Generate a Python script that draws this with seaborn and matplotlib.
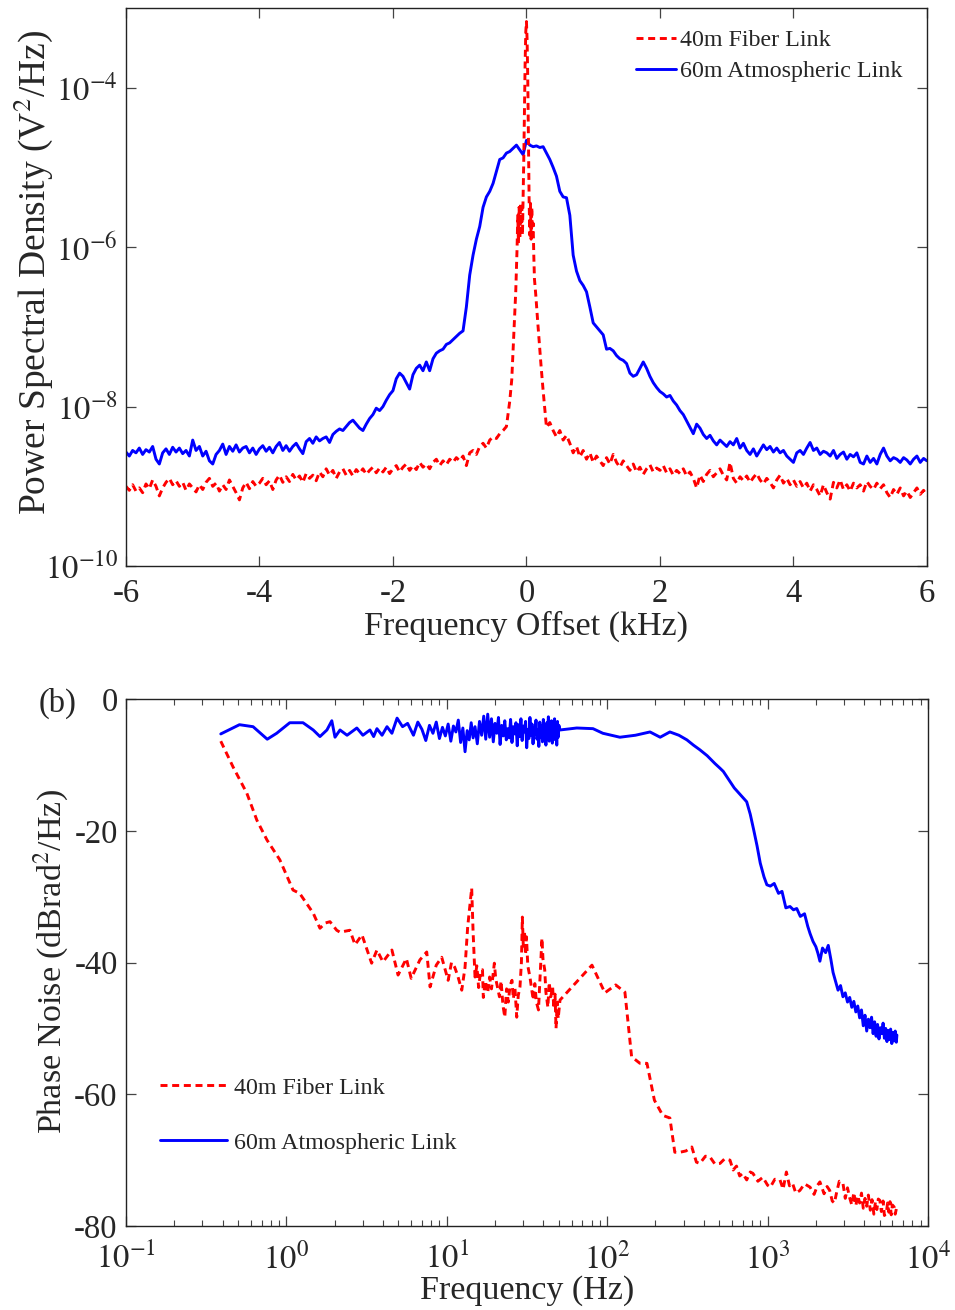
import numpy as np
import pandas as pd
import matplotlib
matplotlib.use("Agg")
import matplotlib.pyplot as plt
from matplotlib.ticker import NullLocator, LogLocator, FixedLocator, FixedFormatter
from matplotlib.lines import Line2D
import seaborn as sns

# ---------------- panel (a): power spectral density ----------------
psd_freq_khz = np.round(np.linspace(-6.0, 6.0, 241), 2)   # FFT bins, 0.05 kHz

atmos_psd_log10 = [
    -8.57, -8.62, -8.55, -8.58, -8.52, -8.60, -8.54, -8.57, -8.50, -8.66, -8.72, -8.58, -8.53, -8.60, -8.51, -8.57, -8.52, -8.59, -8.55, -8.62,
    -8.42, -8.55, -8.50, -8.62, -8.56, -8.68, -8.72, -8.60, -8.55, -8.47, -8.60, -8.50, -8.56, -8.48, -8.57, -8.52, -8.50, -8.58, -8.52, -8.60,
    -8.53, -8.49, -8.56, -8.51, -8.58, -8.50, -8.45, -8.55, -8.49, -8.56, -8.50, -8.46, -8.53, -8.59, -8.44, -8.40, -8.46, -8.38, -8.43, -8.40,
    -8.38, -8.45, -8.35, -8.31, -8.28, -8.30, -8.25, -8.20, -8.17, -8.22, -8.27, -8.30, -8.22, -8.15, -8.10, -8.02, -8.05, -8.00, -7.92, -7.85,
    -7.80, -7.65, -7.58, -7.62, -7.70, -7.78, -7.60, -7.52, -7.48, -7.55, -7.44, -7.55, -7.40, -7.33, -7.30, -7.28, -7.22, -7.20, -7.16, -7.12,
    -7.08, -7.05, -6.75, -6.35, -6.10, -5.90, -5.74, -5.50, -5.37, -5.30, -5.20, -5.05, -4.90, -4.88, -4.82, -4.80, -4.76, -4.72, -4.78, -4.84,
    -4.66, -4.72, -4.74, -4.73, -4.75, -4.74, -4.82, -4.90, -5.00, -5.11, -5.30, -5.37, -5.38, -5.60, -6.10, -6.30, -6.42, -6.48, -6.56, -6.75,
    -6.95, -7.00, -7.05, -7.10, -7.28, -7.27, -7.30, -7.36, -7.40, -7.42, -7.46, -7.58, -7.62, -7.60, -7.52, -7.44, -7.52, -7.62, -7.70, -7.76,
    -7.81, -7.84, -7.88, -7.86, -7.93, -7.98, -8.05, -8.10, -8.18, -8.26, -8.34, -8.22, -8.27, -8.35, -8.40, -8.36, -8.43, -8.48, -8.42, -8.46,
    -8.50, -8.44, -8.48, -8.40, -8.52, -8.46, -8.55, -8.60, -8.53, -8.62, -8.55, -8.48, -8.54, -8.50, -8.57, -8.52, -8.58, -8.55, -8.62, -8.66,
    -8.70, -8.58, -8.55, -8.60, -8.52, -8.45, -8.55, -8.52, -8.60, -8.56, -8.58, -8.62, -8.55, -8.65, -8.60, -8.57, -8.66, -8.60, -8.63, -8.58,
    -8.70, -8.72, -8.62, -8.70, -8.65, -8.72, -8.60, -8.52, -8.62, -8.68, -8.64, -8.66, -8.70, -8.64, -8.67, -8.72, -8.66, -8.62, -8.70, -8.65,
    -8.68,
]

# fiber link: bins -6.00 .. -0.30
fiber_left_log10 = [
    -9.00, -9.05, -8.98, -9.06, -9.02, -9.08, -8.97, -9.03, -8.92, -9.00, -9.12, -9.02, -8.95, -8.90, -8.98, -8.93, -9.00, -8.95, -9.05, -8.97,
    -9.02, -9.07, -8.98, -9.04, -8.95, -8.90, -9.00, -8.96, -9.06, -8.98, -9.04, -8.92, -9.00, -9.08, -9.17, -9.02, -8.95, -9.03, -8.94, -9.00,
    -8.96, -8.90, -8.98, -8.93, -9.04, -8.92, -8.86, -8.95, -8.88, -8.94, -8.85, -8.92, -8.87, -8.95, -8.84, -8.90, -8.86, -8.93, -8.82, -8.88,
    -8.78, -8.86, -8.80, -8.90, -8.82, -8.78, -8.86, -8.80, -8.87, -8.79, -8.84, -8.78, -8.85, -8.80, -8.76, -8.83, -8.77, -8.82, -8.76, -8.84,
    -8.78, -8.74, -8.82, -8.76, -8.72, -8.80, -8.74, -8.79, -8.70, -8.76, -8.72, -8.78, -8.70, -8.66, -8.74, -8.68, -8.73, -8.66, -8.70, -8.64,
    -8.68, -8.62, -8.74, -8.58, -8.55, -8.60, -8.50, -8.46, -8.52, -8.42, -8.38, -8.40, -8.34, -8.30, -8.25,
]
# fiber link: finely resolved carrier region
fiber_core_khz = [-0.25, -0.22, -0.19, -0.16, -0.14, -0.13, -0.12, -0.11, -0.10, -0.09, -0.08, -0.07, -0.06, -0.05,
                  -0.04, -0.03, -0.02, -0.01, 0.00, 0.01, 0.02, 0.03, 0.04, 0.05, 0.06, 0.07, 0.08, 0.09, 0.10,
                  0.11, 0.12, 0.14, 0.17, 0.22, 0.25]
fiber_core_log10 = [-7.93, -7.66, -7.10, -6.55, -6.00, -5.60, -5.95, -5.50, -5.90, -5.45, -5.80, -5.50, -5.85, -5.40,
                    -4.90, -4.30, -3.70, -3.30, -3.17, -3.40, -3.90, -4.60, -5.40, -5.85, -5.45, -5.90, -5.50, -5.85, -5.70,
                    -6.10, -6.40, -6.60, -6.95, -7.50, -7.80]
# fiber link: bins 0.30 .. 6.00
fiber_right_log10 = [
    -8.26, -8.20, -8.30, -8.38, -8.30, -8.42, -8.36, -8.46, -8.58, -8.50, -8.63, -8.55, -8.66, -8.58,
    -8.70, -8.62, -8.68, -8.74, -8.64, -8.72, -8.60, -8.70, -8.76, -8.68, -8.74, -8.80, -8.72, -8.82, -8.76, -8.85, -8.78, -8.73, -8.82, -8.77,
    -8.80, -8.74, -8.83, -8.78, -8.86, -8.80, -8.84, -8.78, -8.87, -8.82, -8.90, -9.02, -8.86, -8.94, -8.85, -8.80, -8.88, -8.83, -8.78, -8.86,
    -8.92, -8.70, -8.90, -8.96, -8.88, -8.93, -8.87, -8.95, -8.89, -8.84, -8.92, -8.97, -8.90, -8.95, -9.02, -8.92, -8.86, -8.96, -8.90, -8.98,
    -8.92, -9.00, -8.94, -9.02, -8.96, -9.06, -8.98, -9.04, -9.12, -8.98, -9.08, -9.16, -8.95, -9.02, -8.92, -9.04, -8.98, -9.06, -8.96, -9.02,
    -8.98, -9.06, -8.94, -9.00, -9.04, -8.96, -9.03, -8.98, -9.08, -9.14, -9.04, -9.10, -9.02, -9.12, -9.06, -9.14, -9.08, -9.02, -9.10, -9.05,
    -9.12,
]

psd_xticks = [-6, -4, -2, 0, 2, 4, 6]
psd_yticks = [1e-10, 1e-8, 1e-6, 1e-4]
psd_yticklabels = [r'$10^{-10}$', r'$10^{-8}$', r'$10^{-6}$', r'$10^{-4}$']

# ---------------- panel (b): phase noise ----------------
fiber_pn_hz = [
    0.39, 0.465, 0.567, 0.655, 0.757, 0.91, 1.1, 1.21, 1.47, 1.62,
    1.75, 1.87, 2.06, 2.16, 2.49, 2.68, 2.96, 3.4, 3.67, 4.0,
    4.55, 4.97, 5.6, 6.0, 6.8, 7.5, 7.87, 8.6, 9.3, 10.2,
    10.7, 11.2, 11.7, 12.4, 13.0, 13.5, 14.3, 14.6, 15.0, 15.4,
    15.8, 16.2, 16.7, 16.9, 17.4, 18.0, 18.5, 19.0, 19.8, 20.2,
    20.7, 21.3, 21.8, 22.4, 23.0, 23.6, 24.2, 24.8, 25.5, 26.0,
    26.6, 27.3, 27.9, 28.6, 29.2, 29.6, 30.0, 30.5, 31.0, 31.4,
    32.0, 33.0, 33.8, 34.6, 35.4, 36.2, 37.3, 38.2, 39.2, 39.8,
    40.8, 41.5, 42.7, 43.5, 44.5, 45.7, 46.5, 47.3, 48.0, 48.8,
    49.5, 50.8, 80.4, 96.8, 113, 129, 142, 160, 177, 197,
    222, 246, 264, 284, 310, 337, 360, 378, 410, 437,
    470, 505, 540, 583, 610, 640, 670, 700, 741, 780,
    810, 870, 935, 1000, 1040, 1110, 1195, 1250, 1310, 1370,
    1430, 1500, 1590, 1700, 1840, 1950, 2050, 2120, 2250, 2350,
    2440, 2530, 2610, 2700, 2800, 2950, 3050, 3150, 3240, 3350,
    3450, 3550, 3650, 3750, 3850, 3950, 4050, 4150, 4250, 4370,
    4480, 4600, 4700, 4800, 4900, 5010, 5120, 5250, 5350, 5500,
    5600, 5700, 5800, 5900, 6000, 6150, 6250, 6400,
]
fiber_pn_db = [
    -6.4, -10.3, -14.3, -18.4, -21.4, -24.4, -29.0, -29.5, -32.5, -34.8,
    -34.0, -33.8, -35.1, -35.4, -35.1, -37.3, -35.8, -40.1, -38.1, -39.9,
    -38.1, -41.9, -39.4, -42.4, -39.6, -38.4, -43.7, -40.4, -39.2, -42.7,
    -40.0, -40.7, -42.0, -44.2, -40.7, -34.6, -28.7, -35.5, -42.2, -40.5,
    -43.8, -41.6, -41.1, -45.3, -42.8, -44.6, -42.2, -44.0, -40.1, -42.5,
    -43.7, -45.2, -42.8, -46.5, -48.3, -44.0, -46.0, -43.5, -42.7, -45.5,
    -43.8, -48.3, -45.0, -43.7, -40.0, -33.1, -37.5, -35.2, -38.8, -36.1,
    -40.5, -42.2, -44.0, -45.7, -43.2, -46.0, -47.2, -42.0, -36.3, -39.5,
    -41.1, -44.5, -46.8, -43.0, -45.2, -43.7, -47.0, -44.8, -50.0, -46.0,
    -48.5, -45.7, -40.4, -44.6, -43.4, -44.5, -54.3, -55.3, -55.3, -60.9,
    -63.2, -63.6, -68.8, -68.8, -68.6, -68.0, -70.3, -70.5, -69.4, -69.5,
    -70.6, -70.5, -69.8, -70.0, -71.5, -70.9, -72.4, -72.0, -73.0, -71.8,
    -72.0, -73.2, -72.6, -73.8, -74.1, -72.9, -73.0, -74.4, -71.8, -73.9,
    -73.5, -75.0, -74.6, -73.6, -74.1, -75.2, -73.8, -73.3, -75.1, -74.0,
    -74.6, -76.2, -76.5, -74.8, -73.2, -73.5, -75.8, -74.2, -75.6, -76.8,
    -74.9, -76.9, -75.4, -76.5, -75.0, -77.3, -75.8, -77.0, -75.3, -77.6,
    -76.0, -78.2, -76.4, -77.5, -75.9, -76.1, -77.8, -76.2, -78.4, -78.0,
    -76.5, -77.9, -76.3, -78.3, -76.8, -77.1, -78.2, -77.0,
]

atmos_pn_hz = [
    0.39, 0.51, 0.62, 0.76, 0.87, 1.05, 1.27, 1.47, 1.62, 1.79,
    1.92, 2.01, 2.16, 2.39, 2.75, 3.0, 3.32, 3.5, 3.67, 3.95,
    4.24, 4.55, 4.9, 5.3, 5.7, 6.2, 6.6, 7.0, 7.4, 7.8,
    8.2, 8.6, 9.0, 9.4, 9.8, 10.2, 10.6, 11.0, 11.4, 11.8,
    12.2, 12.6, 13.0, 13.4, 13.8, 14.2, 14.6, 15.0, 15.5, 16.0,
    16.5, 17.0, 17.5, 18.0, 18.5, 19.0, 19.5, 20.0, 20.5, 21.0,
    21.5, 22.0, 22.5, 23.0, 23.5, 24.0, 24.5, 25.0, 25.5, 26.0,
    26.5, 27.0, 27.5, 28.0, 28.5, 29.0, 29.5, 30.0, 30.5, 31.0,
    31.5, 32.0, 32.5, 33.0, 33.5, 34.0, 34.5, 35.0, 35.5, 36.0,
    36.5, 37.0, 37.5, 38.0, 38.5, 39.0, 39.5, 40.0, 40.5, 41.0,
    41.5, 42.0, 42.5, 43.0, 43.5, 44.0, 44.5, 45.0, 45.5, 46.0,
    46.5, 47.0, 47.5, 48.0, 48.5, 49.0, 49.5, 50.0, 50.8, 64.6,
    81.6, 94, 120, 150, 185, 214, 246, 280, 314, 345,
    378, 420, 470, 505, 530, 575, 620, 680, 741, 780,
    820, 860, 900, 950, 990, 1040, 1100, 1170, 1230, 1300,
    1380, 1450, 1520, 1600, 1700, 1780, 1840, 1920, 2000, 2060,
    2120, 2200, 2300, 2390, 2480, 2560, 2650, 2750, 2850, 2950,
    3050, 3150, 3250, 3350, 3450, 3550, 3650, 3750, 3850, 3950,
    4050, 4150, 4250, 4350, 4450, 4550, 4650, 4750, 4850, 4950,
    5050, 5150, 5250, 5350, 5450, 5550, 5650, 5750, 5850, 5950,
    6050, 6150, 6250, 6350, 6400,
]
atmos_pn_db = [
    -5.3, -3.9, -4.2, -6.1, -5.2, -3.6, -3.6, -4.7, -5.7, -4.7,
    -3.3, -5.8, -4.7, -5.5, -4.4, -5.5, -4.7, -5.7, -4.5, -5.5,
    -4.2, -5.2, -2.9, -4.2, -3.7, -5.5, -3.5, -4.6, -6.3, -4.0,
    -5.2, -3.5, -6.0, -4.3, -5.6, -3.8, -6.4, -4.1, -5.0, -3.2,
    -6.6, -4.4, -8.0, -4.8, -6.2, -3.6, -5.9, -4.2, -6.8, -3.4,
    -5.5, -2.6, -6.1, -2.3, -5.8, -3.0, -6.5, -3.7, -5.2, -2.8,
    -6.9, -4.0, -5.6, -3.3, -6.2, -4.5, -5.9, -3.1, -6.6, -4.2,
    -5.3, -3.6, -7.1, -3.9, -5.7, -3.0, -6.3, -4.1, -5.0, -3.4,
    -7.4, -4.6, -6.0, -2.8, -5.5, -3.8, -6.8, -4.3, -5.4, -3.2,
    -6.1, -4.7, -7.2, -3.5, -5.8, -4.0, -6.5, -3.1, -5.6, -4.4,
    -7.0, -3.6, -5.1, -2.7, -6.4, -4.2, -5.9, -3.3, -6.7, -4.5,
    -5.3, -3.0, -6.2, -4.1, -7.0, -3.4, -5.8, -4.0, -4.7, -4.4,
    -4.5, -5.2, -5.8, -5.5, -5.0, -5.8, -5.0, -5.5, -6.2, -7.0,
    -7.7, -8.6, -9.8, -10.5, -11.0, -12.3, -13.5, -14.6, -15.6, -17.5,
    -19.9, -22.3, -24.9, -27.0, -28.2, -28.4, -28.0, -29.5, -29.2, -31.7,
    -31.5, -32.0, -31.8, -33.0, -32.6, -34.5, -35.6, -36.8, -37.6, -38.6,
    -39.8, -37.8, -38.5, -37.4, -39.5, -41.5, -42.8, -44.2, -43.5, -45.2,
    -44.6, -46.0, -45.3, -46.8, -45.9, -47.5, -46.6, -48.4, -47.2, -49.6,
    -48.0, -50.4, -48.6, -49.9, -48.3, -50.8, -49.0, -51.2, -49.4, -51.6,
    -49.9, -50.8, -49.2, -51.5, -50.0, -52.0, -50.3, -51.7, -50.1, -52.3,
    -50.6, -51.9, -50.4, -52.1, -51.0,
]

pn_xticks = [1e-1, 1e0, 1e1, 1e2, 1e3, 1e4]
pn_xticklabels = [r'$10^{-1}$', r'$10^{0}$', r'$10^{1}$', r'$10^{2}$', r'$10^{3}$', r'$10^{4}$']
pn_yticks = [0, -20, -40, -60, -80]

series_labels = ['40m Fiber Link', '60m Atmospheric Link']

assert len(atmos_psd_log10) == len(psd_freq_khz)
assert len(fiber_left_log10) == 115 and len(fiber_right_log10) == 115
assert len(fiber_core_khz) == len(fiber_core_log10)
assert len(fiber_pn_hz) == len(fiber_pn_db)
assert len(atmos_pn_hz) == len(atmos_pn_db)

# ---------------- assemble tables ----------------
df_atmos = pd.DataFrame({'f': psd_freq_khz, 'psd': 10.0 ** np.array(atmos_psd_log10)})
fiber_f = np.concatenate([psd_freq_khz[:115], fiber_core_khz, psd_freq_khz[-115:]])
fiber_v = np.concatenate([fiber_left_log10, fiber_core_log10, fiber_right_log10])
df_fiber = pd.DataFrame({'f': fiber_f, 'psd': 10.0 ** fiber_v})
df_pn_fiber = pd.DataFrame({'f': fiber_pn_hz, 'pn': fiber_pn_db})
df_pn_atmos = pd.DataFrame({'f': atmos_pn_hz, 'pn': atmos_pn_db})

# ---------------- style ----------------
sns.set_style('white')
plt.rcParams['font.family'] = ['Liberation Serif', 'DejaVu Serif']
plt.rcParams['mathtext.fontset'] = 'stix'
plt.rcParams['axes.unicode_minus'] = False

RED = '#ff0000'
BLUE = '#0000ff'
DASH = (0, (2.4, 1.6))
LW = 2.1
TICK_FS = 23.5
LABEL_FS = 24.5
LEG_FS = 17.3

fig = plt.figure(figsize=(9.55, 13.10), dpi=100)
ax1 = fig.add_axes([0.1319, 0.5679, 0.8387, 0.4260])
ax2 = fig.add_axes([0.1319, 0.0641, 0.8398, 0.4023])

for ax in (ax1, ax2):
    for s in ax.spines.values():
        s.set_color('#222222')
        s.set_linewidth(1.0)
        s.set_visible(True)

# ---- panel (a)
ax1.set_yscale('log')
sns.lineplot(data=df_atmos, x='f', y='psd', ax=ax1, color=BLUE, lw=LW,
             estimator=None, sort=False)
sns.lineplot(data=df_fiber, x='f', y='psd', ax=ax1, color=RED, lw=LW,
             linestyle=DASH, estimator=None, sort=False)
ax1.set_xlim(-6, 6)
ax1.set_ylim(1e-10, 1e-3)
ax1.xaxis.set_major_locator(FixedLocator(psd_xticks))
ax1.set_xticklabels([str(t) for t in psd_xticks])
ax1.yaxis.set_major_locator(FixedLocator(psd_yticks))
ax1.yaxis.set_major_formatter(FixedFormatter(psd_yticklabels))
ax1.yaxis.set_minor_locator(NullLocator())
ax1.xaxis.set_minor_locator(NullLocator())
ax1.tick_params(axis='both', which='major', direction='in', length=7, width=0.9,
                color='#444444', top=True, right=True, bottom=True, left=True,
                labelsize=TICK_FS, pad=6)
ax1.tick_params(axis='x', which='major', pad=9)
ax1.set_xlabel('Frequency Offset (kHz)', fontsize=LABEL_FS, labelpad=1)
ax1.set_ylabel('Power Spectral Density (V$^2$/Hz)', fontsize=27)
ax1.yaxis.set_label_coords(-0.089, 0.527)

h_fib = Line2D([], [], color=RED, lw=LW, linestyle=DASH)
h_atm = Line2D([], [], color=BLUE, lw=LW)
ax1.legend([h_fib, h_atm], series_labels, loc='upper left',
           bbox_to_anchor=(0.637, 0.962), frameon=False, fontsize=LEG_FS,
           handlelength=1.67, handletextpad=0.17, labelspacing=0.38,
           borderpad=0.0, borderaxespad=0.0)

# ---- panel (b)
ax2.set_xscale('log')
sns.lineplot(data=df_pn_atmos, x='f', y='pn', ax=ax2, color=BLUE, lw=LW,
             estimator=None, sort=False)
sns.lineplot(data=df_pn_fiber, x='f', y='pn', ax=ax2, color=RED, lw=LW,
             linestyle=DASH, estimator=None, sort=False)
ax2.set_xlim(1e-1, 1e4)
ax2.set_ylim(-80, 0)
ax2.xaxis.set_major_locator(FixedLocator(pn_xticks))
ax2.xaxis.set_major_formatter(FixedFormatter(pn_xticklabels))
ax2.xaxis.set_minor_locator(LogLocator(base=10, subs=np.arange(2, 10), numticks=20))
ax2.yaxis.set_major_locator(FixedLocator(pn_yticks))
ax2.set_yticklabels([str(t) for t in pn_yticks])
ax2.yaxis.set_minor_locator(NullLocator())
ax2.tick_params(axis='both', which='major', direction='in', length=7, width=0.9,
                color='#444444', top=True, right=True, bottom=True, left=True,
                labelsize=TICK_FS, pad=6)
ax2.tick_params(axis='x', which='major', pad=12)
ax2.tick_params(axis='x', which='minor', direction='in', length=4, width=0.8,
                color='#444444', top=True, bottom=True)
ax2.set_xlabel('Frequency (Hz)', fontsize=LABEL_FS, labelpad=0)
ax2.set_ylabel('Phase Noise (dBrad$^2$/Hz)', fontsize=LABEL_FS)
ax2.yaxis.set_label_coords(-0.07, 0.501)
ax2.legend([h_fib, h_atm], series_labels, loc='upper left',
           bbox_to_anchor=(0.042, 0.283), frameon=False, fontsize=LEG_FS,
           handlelength=2.8, handletextpad=0.3, labelspacing=1.38,
           borderpad=0.0, borderaxespad=0.0)

fig.text(0.040, 0.4634, '(b)', fontsize=TICK_FS, ha='left', va='center')

fig.savefig('out.png', dpi=100)
